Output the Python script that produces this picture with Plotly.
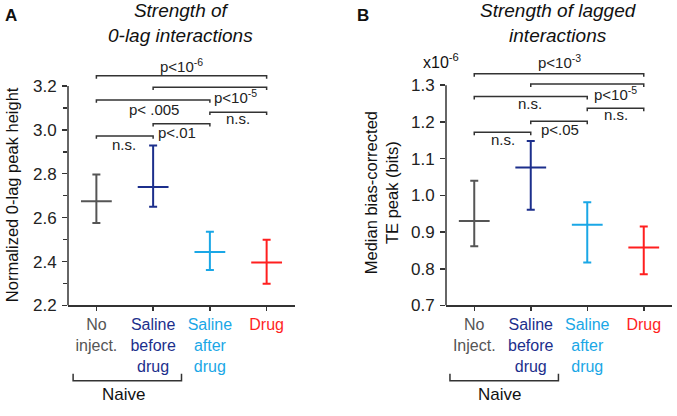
import plotly.graph_objects as go

# ---------------- data ----------------
categories = ["No inject.", "Saline before drug", "Saline after drug", "Drug"]
labels_a = [["No", "inject."], ["Saline", "before", "drug"], ["Saline", "after", "drug"], ["Drug"]]
labels_b = [["No", "Inject."], ["Saline", "before", "drug"], ["Saline", "after", "drug"], ["Drug"]]
colors = ["#555555", "#1c2f8c", "#1aa7e6", "#ff1f1f"]

# Panel A: normalized 0-lag peak height
a_mean = [2.675, 2.739, 2.443, 2.396]
a_upper = [2.796, 2.928, 2.536, 2.499]
a_lower = [2.576, 2.650, 2.361, 2.299]

# Panel B: median bias-corrected TE peak (x1e-6 bits)
b_mean = [0.930, 1.076, 0.920, 0.858]
b_upper = [1.040, 1.148, 0.981, 0.915]
b_lower = [0.861, 0.961, 0.817, 0.785]

a_ticks = [2.2, 2.4, 2.6, 2.8, 3.0, 3.2]
a_minor = [2.3, 2.5, 2.7, 2.9, 3.1]
b_ticks = [0.7, 0.8, 0.9, 1.0, 1.1, 1.2, 1.3]

# significance comparisons: (i, j, bracket level, label, label x, label y)
a_sig = [
    (0, 3, 3.246, "p<10<sup>-6</sup>", 1.5, 3.293),
    (1, 3, 3.194, "p<10<sup>-5</sup>", 2.45, 3.150),
    (0, 2, 3.136, "p< .005", 1.02, 3.093),
    (2, 3, 3.080, "n.s.", 2.49, 3.053),
    (1, 2, 3.028, "p<.01", 1.42, 2.987),
    (0, 1, 2.972, "n.s.", 0.49, 2.935),
]
b_sig = [
    (0, 3, 1.331, "p<10<sup>-3</sup>", 1.5, 1.366),
    (1, 3, 1.303, "p<10<sup>-5</sup>", 2.5, 1.278),
    (0, 2, 1.269, "n.s.", 0.99, 1.249),
    (2, 3, 1.237, "n.s.", 2.5, 1.219),
    (1, 2, 1.202, "p<.05", 1.52, 1.180),
    (0, 1, 1.172, "n.s.", 0.5, 1.153),
]

FONT = "Liberation Sans, Arial, sans-serif"
AX = "#333333"

fig = go.Figure()

def add_panel(mean, upper, lower, xa, ya):
    for i in range(len(categories)):
        fig.add_trace(go.Scatter(
            x=[i], y=[mean[i]], mode="markers", xaxis=xa, yaxis=ya,
            marker=dict(symbol="line-ew", size=22, line=dict(width=2, color=colors[i]), color=colors[i]),
            error_y=dict(type="data", symmetric=False,
                         array=[upper[i] - mean[i]], arrayminus=[mean[i] - lower[i]],
                         color=colors[i], thickness=2, width=4),
            showlegend=False, hoverinfo="skip"))

add_panel(a_mean, a_upper, a_lower, "x", "y")
add_panel(b_mean, b_upper, b_lower, "x2", "y2")

def ticktext(lbls):
    out = []
    for lines, c in zip(lbls, colors):
        out.append("<br>".join(f"<span style='color:{c}'>{l}</span>" for l in lines))
    return out

shapes = []
annotations = []

def add_sig(sig, xr, yr, drop):
    for i, j, lvl, txt, tx, ty in sig:
        shapes.append(dict(type="path", xref=xr, yref=yr,
                           path=f"M {i},{lvl - drop} L {i},{lvl} L {j},{lvl} L {j},{lvl - drop}",
                           line=dict(color=AX, width=1.5)))
        annotations.append(dict(text=txt, x=tx, y=ty, xref=xr, yref=yr, showarrow=False,
                                font=dict(size=15, color="#222", family=FONT),
                                xanchor="center", yanchor="middle"))

add_sig(a_sig, "x", "y", 0.013)
add_sig(b_sig, "x2", "y2", 0.008)

# y axis lines (only up to the top tick)
shapes.append(dict(type="line", xref="x domain", yref="y", x0=0, x1=0, y0=a_ticks[0], y1=a_ticks[-1],
                   line=dict(color=AX, width=1.5)))
shapes.append(dict(type="line", xref="x2 domain", yref="y2", x0=0, x1=0, y0=b_ticks[0], y1=b_ticks[-1],
                   line=dict(color=AX, width=1.5)))

# "Naive" group brackets
for xr, x0, x1, tx in [("x", -0.41, 1.5, 0.48), ("x2", -0.43, 1.49, 0.44)]:
    shapes.append(dict(type="path", xref=xr, yref="paper",
                       path=f"M {x0},0.0793 L {x0},0.0625 L {x1},0.0625 L {x1},0.0793",
                       line=dict(color=AX, width=1.5)))
    annotations.append(dict(text="Naive", x=tx, y=0.029, xref=xr, yref="paper", showarrow=False,
                            font=dict(size=17, color="#111", family=FONT),
                            xanchor="center", yanchor="middle"))

def pap(text, px, py, size, angle=0):
    return dict(text=text, x=px / 677, y=(416 - py) / 416, xref="paper", yref="paper",
                showarrow=False, textangle=angle, xanchor="center", yanchor="middle",
                font=dict(size=size, color="#111", family=FONT))

# titles, panel letters, axis titles
annotations += [
    pap("<i>Strength of<br>0-lag interactions</i>", 180, 24, 19),
    pap("<i>Strength of lagged<br>interactions</i>", 558, 24, 19),
    pap("<b>A</b>", 11, 16, 17),
    pap("<b>B</b>", 363, 16, 17),
    pap("Normalized 0-lag peak height", 12, 200, 16.5, -90),
    pap("Median bias-corrected<br>TE peak (bits)", 381, 197, 16.5, -90),
    pap("x10<sup>-6</sup>", 441, 63, 16),
]

ydom = [103 / 416, 355 / 416]
xcommon = dict(range=[-0.5, 3.5], showline=True, linecolor=AX, linewidth=1.5, ticks="outside",
               ticklen=4, tickwidth=1.5, tickcolor=AX, showgrid=False, zeroline=False,
               tickvals=[0, 1, 2, 3], tickfont=dict(size=16, family=FONT), ticklabelstandoff=0,
               fixedrange=True)
ycommon = dict(showline=False, ticks="outside", ticklen=5, tickwidth=1.5, tickcolor=AX, showgrid=False,
               zeroline=False, tickfont=dict(size=17, family=FONT, color="#222"), domain=ydom,
               ticklabelstandoff=2)

fig.update_layout(
    width=677, height=416, margin=dict(l=0, r=0, t=0, b=0),
    paper_bgcolor="white", plot_bgcolor="white", font=dict(family=FONT, color="#111"),
    xaxis=dict(**xcommon, domain=[68 / 677, 295 / 677], ticktext=ticktext(labels_a), anchor="y"),
    yaxis=dict(**ycommon, range=[2.2, 3.32], tickvals=a_ticks, ticktext=[f"{v:.1f}" for v in a_ticks],
               minor=dict(tickvals=a_minor, ticks="outside", ticklen=4, tickwidth=1.5, tickcolor=AX),
               anchor="x"),
    xaxis2=dict(**xcommon, domain=[446 / 677, 672 / 677], ticktext=ticktext(labels_b), anchor="y2"),
    yaxis2=dict(**ycommon, range=[0.7, 1.37], tickvals=b_ticks, ticktext=[f"{v:.1f}" for v in b_ticks],
                anchor="x2"),
    shapes=shapes, annotations=annotations,
)

page_fix = (
    "var h=document.documentElement,b=document.body;"
    "h.style.margin='0';h.style.padding='0';h.style.overflow='hidden';"
    "b.style.margin='0';b.style.padding='0';b.style.overflow='hidden';"
)

fig.write_html("out.html", config={"displayModeBar": False, "staticPlot": True},
               post_script=page_fix)
